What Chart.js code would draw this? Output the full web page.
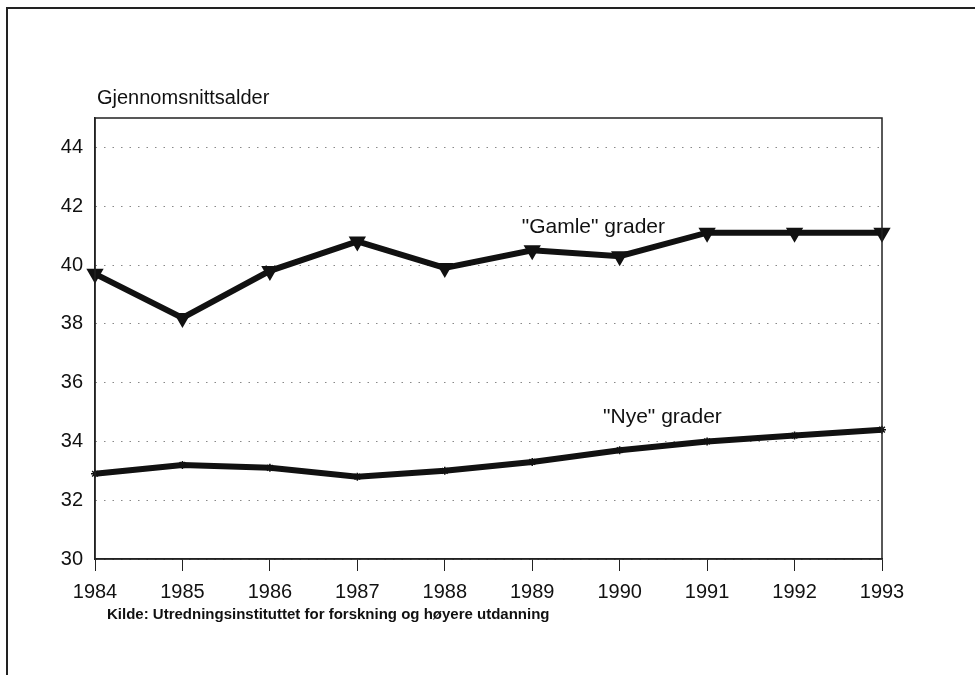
<!DOCTYPE html>
<html>
<head>
<meta charset="utf-8">
<script src="https://cdn.jsdelivr.net/npm/chart.js@4"></script>
<style>
    html, body { margin: 0; padding: 0; background: #fff; }
    #wrap { width: 975px; height: 675px; position: relative; }
</style>
</head>
<body>
<div id="wrap"><canvas id="alderChart" width="975" height="675"></canvas></div>
<script>
// Data lest av figuren
const years = ['1984', '1985', '1986', '1987', '1988', '1989', '1990', '1991', '1992', '1993'];
const gamleGrader = [39.7, 38.2, 39.8, 40.8, 39.9, 40.5, 40.3, 41.1, 41.1, 41.1];
const nyeGrader = [32.9, 33.2, 33.1, 32.8, 33.0, 33.3, 33.7, 34.0, 34.2, 34.4];
const yTicks = [30, 32, 34, 36, 38, 40, 42, 44];

const yTitle = 'Gjennomsnittsalder';
const kilde = 'Kilde: Utredningsinstituttet for forskning og høyere utdanning';
// Etiketter på linjene: [tekst, x (indeks), y (verdi)]
const seriesLabels = [
    ['"Gamle" grader', 4.88, 41.27],
    ['"Nye" grader', 5.81, 34.84]
];

const FONT = '"Liberation Sans", Arial, Helvetica, sans-serif';

function createLineChart(elementId) {
    const canvas = document.getElementById(elementId);
    const ctx = canvas.getContext('2d');

    if (canvas.chartInstance) {
        canvas.chartInstance.destroy();
    }

    // Ramme, tittel, kilde og tekst ved linjene
    const decorPlugin = {
        id: 'decor',
        beforeDraw(chart) {
            const c = chart.ctx;
            c.save();
            c.fillStyle = '#fff';
            c.fillRect(0, 0, chart.width, chart.height);
            c.strokeStyle = '#222';
            c.lineWidth = 2;
            c.beginPath();
            c.moveTo(7, chart.height);
            c.lineTo(7, 8);
            c.lineTo(chart.width, 8);
            c.stroke();
            c.restore();
        },
        afterDatasetsDraw(chart) {
            const c = chart.ctx;
            const area = chart.chartArea;
            c.save();
            c.strokeStyle = '#222';
            c.lineWidth = 1.5;
            c.setLineDash([]);
            c.strokeRect(area.left, area.top, area.right - area.left, area.bottom - area.top);
            c.restore();
        },
        afterDraw(chart) {
            const c = chart.ctx;
            const xs = chart.scales.x;
            const ys = chart.scales.y;
            c.save();
            c.fillStyle = '#111';
            c.textBaseline = 'middle';
            c.textAlign = 'left';
            c.font = '20px ' + FONT;
            c.fillText(yTitle, 97, 98);

            c.font = '21px ' + FONT;
            seriesLabels.forEach(([text, xi, yv]) => {
                c.fillText(text, xs.getPixelForValue(xi), ys.getPixelForValue(yv));
            });

            c.font = 'bold 15px ' + FONT;
            c.fillText(kilde, 107, 615);
            c.restore();
        }
    };

    canvas.chartInstance = new Chart(ctx, {
        type: 'line',
        data: {
            labels: years,
            datasets: [
                {
                    label: '"Gamle" grader',
                    data: gamleGrader,
                    borderColor: '#111',
                    backgroundColor: '#111',
                    borderWidth: 6,
                    pointStyle: 'triangle',
                    rotation: 180,
                    pointRadius: 4,
                    tension: 0
                },
                {
                    label: '"Nye" grader',
                    data: nyeGrader,
                    borderColor: '#111',
                    backgroundColor: '#111',
                    borderWidth: 6,
                    pointStyle: 'star',
                    pointBorderWidth: 1.5,
                    pointRadius: 4,
                    tension: 0
                }
            ]
        },
        options: {
            responsive: false,
            animation: false,
            layout: {
                padding: { left: 0, top: 118, right: 93, bottom: 0 }
            },
            scales: {
                x: {
                    offset: false,
                    grid: {
                        drawOnChartArea: false,
                        drawTicks: true,
                        tickLength: 12,
                        color: '#222'
                    },
                    border: { color: '#222', width: 1.5 },
                    ticks: {
                        color: '#111',
                        padding: 9,
                        maxRotation: 0,
                        autoSkip: false,
                        font: { family: FONT, size: 20 }
                    },
                    afterFit(scale) { scale.height = 116; }
                },
                y: {
                    min: 30,
                    max: 45,
                    afterBuildTicks(scale) {
                        scale.ticks = yTicks.map(v => ({ value: v }));
                    },
                    grid: {
                        drawTicks: false,
                        color: '#888',
                        lineWidth: 1
                    },
                    // I v4 styrer border.dash rutenettet
                    border: { color: '#222', width: 1.5, dash: [1.5, 7] },
                    ticks: {
                        color: '#111',
                        padding: 12,
                        font: { family: FONT, size: 20 }
                    },
                    afterFit(scale) { scale.width = 95; }
                }
            },
            plugins: {
                legend: { display: false },
                title: { display: false },
                tooltip: { enabled: false }
            }
        },
        plugins: [decorPlugin]
    });
}

createLineChart('alderChart');
</script>
</body>
</html>
